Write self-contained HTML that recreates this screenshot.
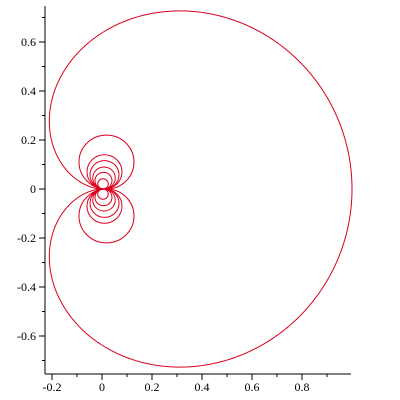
<!DOCTYPE html>
<html><head><meta charset="utf-8"><style>
html,body{margin:0;padding:0;background:#fff;width:400px;height:400px;overflow:hidden}
text{font-family:"Liberation Serif",serif;font-size:12px;fill:#000}
</style></head><body>
<svg id="chart" width="400" height="400" xmlns="http://www.w3.org/2000/svg"></svg>
<script>
const xTicks=[-0.2,0,0.2,0.4,0.6,0.8];
const xTickLabels=["-0.2","0","0.2","0.4","0.6","0.8"];
const yTicks=[-0.6,-0.4,-0.2,0,0.2,0.4,0.6];
const yTickLabels=["-0.6","-0.4","-0.2","0","0.2","0.4","0.6"];
const bigCurveScale=[1.0];
const bigCurvePower=[1.3];
const loopRadii=[0.11,0.07,0.058,0.045,0.034,0.021];
const loopCenterX=[0.018,0.01,0.01,0.008,0.006,0.004];

const X0=102, XS=250, Y0=189, YS=245;
const sx=v=>X0+v*XS, sy=v=>Y0-v*YS;
const svg=document.getElementById('chart');
const NS='http://www.w3.org/2000/svg';
function mk(tag,attrs){const e=document.createElementNS(NS,tag);for(const k in attrs)e.setAttribute(k,attrs[k]);svg.appendChild(e);return e;}

const xa=mk('line',{x1:45,y1:374,x2:351,y2:374,stroke:'#000','stroke-width':1});


const ya=mk('line',{x1:45,y1:6,x2:45,y2:374,stroke:'#000','stroke-width':1});


for(let v=-0.2;v<=0.95;v+=0.1){const p=sx(v);const major=Math.abs(Math.round(v*10))%2===0;
  const t=mk('line',{x1:p,y1:374,x2:p,y2:major?380:377,stroke:'#000'});
  
  }
for(let v=-0.7;v<=0.71;v+=0.1){const p=sy(v);const major=Math.abs(Math.round(v*10))%2===0;
  const t=mk('line',{x1:45,y1:p,x2:major?39:42,y2:p,stroke:'#000'});
  
  }
xTicks.forEach((v,i)=>{const t=mk('text',{x:sx(v),y:391,'text-anchor':'middle'});t.textContent=xTickLabels[i];
  
  });
yTicks.forEach((v,i)=>{const t=mk('text',{x:36,y:sy(v)+4,'text-anchor':'end'});t.textContent=yTickLabels[i];
  
  });

let d='';
for(let i=0;i<=720;i++){const th=-Math.PI+2*Math.PI*i/720;const c=Math.cos(th/2);
  const r=bigCurveScale[0]*Math.pow(Math.max(c,0),bigCurvePower[0]);
  d+=(i?'L':'M')+sx(r*Math.cos(th)).toFixed(2)+','+sy(r*Math.sin(th)).toFixed(2);}
const bc=mk('path',{d:d,fill:'none',stroke:'#d8001c','stroke-width':1});



loopRadii.forEach((r,i)=>{[1,-1].forEach(s=>{
  const c=mk('ellipse',{cx:sx(loopCenterX[i]),cy:sy(s*r),rx:r*XS,ry:r*YS,fill:'none',stroke:'#d8001c','stroke-width':1});
  
  });});
</script>
</body></html>
